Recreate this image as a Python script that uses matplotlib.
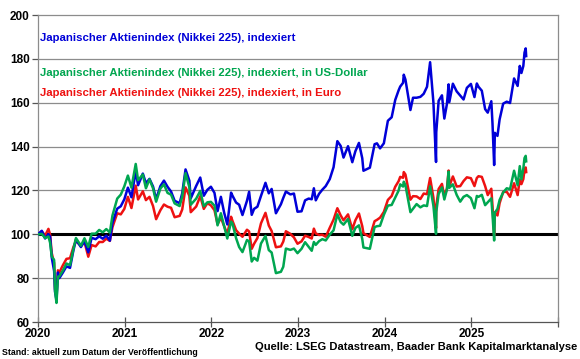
import pandas as pd
import matplotlib
matplotlib.use("Agg")
import matplotlib.pyplot as plt

dates = [
    "2020-01-01", "2020-01-17", "2020-01-31", "2020-02-14", "2020-02-21", "2020-02-28",
    "2020-03-09", "2020-03-13", "2020-03-19", "2020-03-25", "2020-03-31", "2020-04-15",
    "2020-04-30", "2020-05-15", "2020-05-29", "2020-06-09", "2020-06-30", "2020-07-15",
    "2020-07-31", "2020-08-14", "2020-08-31", "2020-09-15", "2020-09-30", "2020-10-15",
    "2020-10-30", "2020-11-10", "2020-11-30", "2020-12-15", "2020-12-30", "2021-01-14",
    "2021-01-29", "2021-02-16", "2021-02-26", "2021-03-18", "2021-03-31", "2021-04-15",
    "2021-04-30", "2021-05-13", "2021-05-31", "2021-06-15", "2021-06-30", "2021-07-15",
    "2021-07-30", "2021-08-20", "2021-08-31", "2021-09-14", "2021-09-30", "2021-10-06",
    "2021-10-29", "2021-11-15", "2021-11-30", "2021-12-15", "2021-12-30", "2022-01-14",
    "2022-01-27", "2022-02-10", "2022-02-24", "2022-03-09", "2022-03-25", "2022-03-31",
    "2022-04-15", "2022-04-28", "2022-05-12", "2022-05-31", "2022-06-09", "2022-06-20",
    "2022-06-30", "2022-07-14", "2022-07-29", "2022-08-17", "2022-08-31", "2022-09-12",
    "2022-09-30", "2022-10-21", "2022-10-31", "2022-11-11", "2022-11-30", "2022-12-15",
    "2022-12-30", "2023-01-16", "2023-01-31", "2023-02-15", "2023-02-28", "2023-03-09",
    "2023-03-17", "2023-03-31", "2023-04-14", "2023-04-28", "2023-05-15", "2023-05-31",
    "2023-06-16", "2023-06-30", "2023-07-12", "2023-07-31", "2023-08-18", "2023-08-31",
    "2023-09-15", "2023-09-29", "2023-10-04", "2023-10-31", "2023-11-20", "2023-11-30",
    "2023-12-13", "2023-12-29", "2024-01-15", "2024-01-31", "2024-02-15", "2024-02-29",
    "2024-03-07", "2024-03-19", "2024-03-22", "2024-03-29", "2024-04-19", "2024-04-30",
    "2024-05-15", "2024-05-31", "2024-06-14", "2024-06-28", "2024-07-11", "2024-07-25",
    "2024-08-05", "2024-08-06", "2024-08-16", "2024-08-30", "2024-09-09", "2024-09-20",
    "2024-09-27", "2024-09-30", "2024-10-15", "2024-10-31", "2024-11-15", "2024-11-29",
    "2024-12-13", "2024-12-30", "2025-01-14", "2025-01-24", "2025-01-31", "2025-02-14",
    "2025-02-28", "2025-03-11", "2025-03-26", "2025-03-31", "2025-04-07", "2025-04-10",
    "2025-04-21", "2025-04-30", "2025-05-15", "2025-05-30", "2025-06-13", "2025-06-30",
    "2025-07-15", "2025-07-24", "2025-07-31", "2025-08-08", "2025-08-13", "2025-08-18",
    "2025-08-20",
]

nikkei = [
    100.0, 101.6, 98.1, 100.1, 98.9, 89.4, 83.3, 73.7, 70.0, 82.6, 80.0, 82.6,
    85.4, 84.7, 92.5, 97.6, 94.2, 97.0, 91.8, 98.4, 97.8, 99.1, 98.0, 99.4,
    97.1, 105.3, 111.7, 112.8, 116.0, 121.3, 116.9, 128.8, 122.4, 127.7, 123.3, 125.3,
    121.8, 116.0, 122.0, 124.5, 121.7, 119.5, 115.3, 114.2, 118.7, 129.6, 124.5, 116.4,
    122.1, 125.9, 117.6, 120.3, 121.7, 118.9, 110.6, 117.1, 109.8, 104.5, 119.0, 117.6,
    114.5, 113.5, 108.8, 115.3, 119.4, 108.9, 111.6, 112.6, 117.5, 123.5, 118.7, 120.7,
    109.6, 113.7, 116.6, 119.5, 118.2, 118.6, 110.3, 110.5, 115.5, 116.3, 116.0, 121.0,
    115.5, 118.5, 120.4, 122.0, 125.2, 130.6, 142.5, 140.3, 135.0, 140.2, 132.9, 137.9,
    141.7, 134.7, 129.0, 130.4, 141.1, 141.5, 139.2, 141.5, 151.8, 153.4, 161.3, 165.6,
    167.4, 169.1, 172.8, 170.6, 156.7, 162.3, 162.3, 162.7, 164.1, 167.3, 178.5, 160.1,
    133.0, 146.6, 160.9, 163.4, 152.8, 159.5, 168.4, 160.3, 168.7, 165.2, 163.3, 161.5,
    166.8, 168.6, 162.6, 168.8, 167.3, 165.5, 157.1, 155.5, 160.7, 150.6, 131.6, 146.3,
    144.9, 152.4, 159.6, 160.5, 159.9, 171.1, 167.7, 176.8, 173.6, 176.8, 182.9, 184.8,
    181.3,
]

nikkei_usd = [
    100.0, 100.2, 98.3, 99.0, 96.2, 89.9, 88.3, 74.1, 68.7, 80.7, 80.8, 83.5,
    86.7, 85.9, 93.1, 98.3, 94.8, 98.2, 94.2, 100.3, 100.3, 102.0, 100.9, 102.4,
    100.8, 108.6, 116.3, 118.1, 121.9, 126.8, 121.3, 132.1, 124.7, 127.3, 121.0, 125.1,
    121.0, 114.9, 120.9, 122.8, 118.9, 118.1, 114.1, 112.9, 117.2, 127.9, 121.5, 113.5,
    116.3, 119.8, 112.8, 114.6, 114.8, 113.1, 104.1, 109.6, 103.7, 98.1, 105.8, 104.9,
    98.3, 94.2, 91.9, 97.4, 96.8, 87.6, 89.3, 88.0, 95.8, 99.3, 92.8, 91.7,
    82.3, 82.9, 85.2, 93.5, 92.9, 93.5, 91.4, 93.4, 96.4, 94.3, 92.5, 96.5,
    95.2, 96.9, 97.8, 97.2, 99.9, 101.8, 109.1, 105.6, 104.4, 107.0, 99.3, 102.9,
    104.1, 97.9, 94.0, 93.4, 103.3, 103.7, 103.9, 108.9, 113.1, 113.4, 116.8, 119.9,
    122.8, 121.8, 124.0, 122.4, 110.1, 111.7, 113.8, 112.3, 113.2, 112.9, 121.9, 113.0,
    100.2, 110.2, 118.4, 121.4, 115.9, 120.4, 128.6, 121.2, 122.8, 118.0, 114.9, 117.1,
    117.9, 116.5, 111.9, 117.5, 117.1, 118.0, 113.3, 114.6, 116.4, 109.1, 97.2, 109.9,
    111.6, 115.7, 119.1, 121.0, 120.6, 129.0, 122.4, 131.1, 125.1, 130.0, 134.8, 135.8,
    133.3,
]

nikkei_eur = [
    100.0, 101.4, 99.4, 102.5, 99.9, 91.4, 86.9, 74.8, 71.9, 83.6, 82.6, 85.9,
    88.8, 89.1, 94.1, 97.0, 94.7, 96.5, 89.8, 95.1, 94.5, 96.5, 96.5, 98.0,
    97.0, 103.3, 109.6, 109.1, 111.6, 117.1, 112.0, 122.2, 115.9, 119.6, 115.6, 117.1,
    112.9, 106.9, 111.0, 113.6, 112.6, 112.1, 107.8, 108.4, 111.3, 121.4, 117.6, 110.1,
    112.7, 117.4, 111.6, 114.2, 113.2, 111.0, 104.6, 107.6, 103.6, 100.2, 108.0, 106.1,
    101.9, 100.3, 98.9, 102.1, 101.3, 93.4, 95.7, 98.3, 105.0, 109.8, 104.0, 101.5,
    94.1, 94.5, 96.7, 101.4, 100.2, 98.6, 95.7, 96.8, 99.4, 98.8, 98.1, 102.6,
    100.4, 99.7, 99.8, 98.9, 103.0, 106.7, 111.9, 108.6, 106.4, 109.1, 102.3, 106.4,
    109.5, 103.7, 100.5, 98.8, 106.0, 106.6, 107.6, 110.2, 115.7, 117.5, 121.7, 124.2,
    126.2, 125.8, 128.4, 127.3, 115.8, 117.4, 117.3, 116.1, 118.6, 118.3, 125.7, 116.7,
    102.8, 113.0, 120.7, 123.0, 117.4, 120.9, 129.1, 121.9, 126.4, 121.8, 122.0, 124.3,
    126.0, 125.6, 122.0, 125.7, 126.5, 126.2, 122.0, 117.9, 120.8, 113.0, 99.6, 110.0,
    108.6, 114.2, 119.3, 119.4, 117.1, 123.3, 117.9, 125.0, 122.9, 125.2, 129.5, 130.5,
    128.4,
]

labels = [
    "Japanischer Aktienindex (Nikkei 225), indexiert",
    "Japanischer Aktienindex (Nikkei 225), indexiert, in US-Dollar",
    "Japanischer Aktienindex (Nikkei 225), indexiert, in Euro",
]
col_blue = "#0000d8"
col_green = "#00a650"
col_red = "#ee1111"

plt.rcParams["font.family"] = ["Liberation Sans", "DejaVu Sans"]
plt.rcParams["font.weight"] = "bold"

x = pd.to_datetime(dates)

fig = plt.figure(figsize=(5.8, 3.59), dpi=100)
ax = fig.add_axes([0.0655, 0.103, 0.8965, 0.855])

# Gitter und 100er-Linie
for yv in range(80, 200, 20):
    if yv == 100:
        ax.axhline(yv, color="black", lw=2.2, zorder=1)
    else:
        ax.axhline(yv, color="#8c8c8c", lw=0.9, zorder=0)

ax.plot(x, nikkei_eur, color=col_red, lw=1.8, zorder=2)
ax.plot(x, nikkei, color=col_blue, lw=1.8, zorder=3)
ax.plot(x, nikkei_usd, color=col_green, lw=1.8, zorder=4)

ax.set_ylim(60, 200)
ax.set_yticks(range(60, 201, 20))
ax.set_xlim(pd.Timestamp("2020-01-01"), pd.Timestamp("2026-01-01"))
ax.set_xticks(pd.to_datetime([f"{y}-01-01" for y in range(2020, 2027)]))
ax.set_xticklabels([str(y) for y in range(2020, 2026)] + [""])

for side in ["left", "right", "top"]:
    ax.spines[side].set_color("#8c8c8c")
    ax.spines[side].set_linewidth(0.9)
ax.spines["bottom"].set_color("#555555")
ax.spines["bottom"].set_linewidth(0.9)

ax.tick_params(axis="y", length=4, width=0.9, color="#555555", labelsize=8.5, pad=2)
ax.tick_params(axis="x", length=7, width=0.9, direction="inout", color="#555555",
               labelsize=8.5, pad=1)

# Beschriftung der Reihen
ax.text(0.004, 0.925, labels[0], transform=ax.transAxes, color=col_blue,
        fontsize=8.2, fontweight="bold", va="center", ha="left")
ax.text(0.004, 0.811, labels[1], transform=ax.transAxes, color=col_green,
        fontsize=8.2, fontweight="bold", va="center", ha="left")
ax.text(0.004, 0.746, labels[2], transform=ax.transAxes, color=col_red,
        fontsize=8.2, fontweight="bold", va="center", ha="left")

fig.text(0.004, 0.006, "Stand: aktuell zum Datum der Veröffentlichung",
         fontsize=6.3, fontweight="bold", ha="left", va="bottom")
fig.text(0.995, 0.02, "Quelle: LSEG Datastream, Baader Bank Kapitalmarktanalyse",
         fontsize=8, fontweight="bold", ha="right", va="bottom")

fig.savefig("out.png", dpi=100)
